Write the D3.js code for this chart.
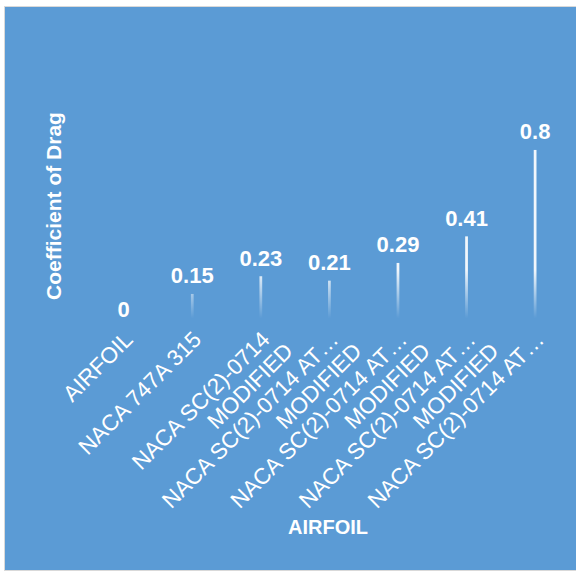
<!DOCTYPE html>
<html><head><meta charset="utf-8">
<script src="https://cdn.jsdelivr.net/npm/d3@7"></script>
<style>html,body{margin:0;padding:0;background:#fff;} svg{display:block;}</style>
</head><body>
<script>
// ---- data ----
const categoryLabels = [
  ["AIRFOIL"],
  ["NACA 747A 315"],
  ["NACA SC(2)-0714"],
  ["MODIFIED", "NACA SC(2)-0714 AT…"],
  ["MODIFIED", "NACA SC(2)-0714 AT…"],
  ["MODIFIED", "NACA SC(2)-0714 AT…"],
  ["MODIFIED", "NACA SC(2)-0714 AT…"]
];
const dragValues = [0, 0.15, 0.23, 0.21, 0.29, 0.41, 0.8];
const yTitle = "Coefficient of Drag";
const xTitle = "AIRFOIL";

// ---- layout ----
const W = 576, H = 572;
const FONT = "'Liberation Sans', Arial, sans-serif";
const svg = d3.select("body").append("svg").attr("width", W).attr("height", H);

svg.append("rect").attr("x", 4.5).attr("y", 6.5).attr("width", W).attr("height", 564)
  .attr("fill", "#5B9BD5").attr("stroke", "#D9D9D9").attr("stroke-width", 1);

const x = d3.scaleBand().domain(d3.range(dragValues.length))
  .range([89.4, 569.4]).paddingInner(0.96).paddingOuter(0.48);
const y = d3.scaleLinear().domain([0, 0.9]).range([327.2, 127.8]);

const grad = svg.append("defs").append("linearGradient").attr("id", "barGrad")
  .attr("gradientUnits", "userSpaceOnUse")
  .attr("x1", 0).attr("x2", 0).attr("y1", y(0.26)).attr("y2", y(0.04));
grad.append("stop").attr("offset", 0).attr("stop-color", "#ffffff").attr("stop-opacity", 0.92);
grad.append("stop").attr("offset", 1).attr("stop-color", "#ffffff").attr("stop-opacity", 0);

// bars
svg.append("g").selectAll("rect").data(dragValues).join("rect")
  .attr("x", (d, i) => x(i))
  .attr("width", x.bandwidth())
  .attr("y", d => y(d))
  .attr("height", d => y(0) - y(d))
  .attr("fill", "url(#barGrad)");

// data labels
svg.append("g").selectAll("text").data(dragValues).join("text")
  .attr("x", (d, i) => x(i) + x.bandwidth() / 2)
  .attr("y", d => y(d) - 10.5)
  .attr("text-anchor", "middle")
  .attr("font-family", FONT).attr("font-weight", "bold").attr("font-size", 22)
  .attr("fill", "#fff")
  .text(d => String(d));

// category axis
const axis = d3.axisBottom(x).tickSize(0).tickFormat(() => "");
const ax = svg.append("g").call(axis);
ax.select(".domain").remove();
const c = Math.SQRT1_2, lineGap = 24;
ax.selectAll(".tick").each(function (i) {
  const g = d3.select(this);
  g.selectAll("text").remove();
  const cx = x.bandwidth() / 2;
  const lines = categoryLabels[i];
  const ex = cx + 9, ey = 341;
  const texts = lines.map(s => g.append("text")
    .attr("font-family", FONT).attr("font-size", 22.5).attr("fill", "#fff")
    .attr("text-anchor", "middle").text(s));
  const n = lines.length;
  const wLast = texts[n - 1].node().getComputedTextLength();
  const mx = ex - c * wLast / 2, my = ey + c * wLast / 2;
  texts.forEach((t, k) => {
    const yy = my - (n - 1 - k) * lineGap * Math.SQRT2;
    t.attr("transform", `translate(${mx},${yy}) rotate(-45)`);
  });
});

// axis titles
svg.append("text")
  .attr("transform", "translate(61,206) rotate(-90)")
  .attr("text-anchor", "middle")
  .attr("font-family", FONT).attr("font-weight", "bold").attr("font-size", 21)
  .attr("fill", "#fff").text(yTitle);
svg.append("text")
  .attr("x", 328).attr("y", 534)
  .attr("text-anchor", "middle")
  .attr("font-family", FONT).attr("font-weight", "bold").attr("font-size", 20)
  .attr("fill", "#fff").text(xTitle);
</script>
</body></html>
